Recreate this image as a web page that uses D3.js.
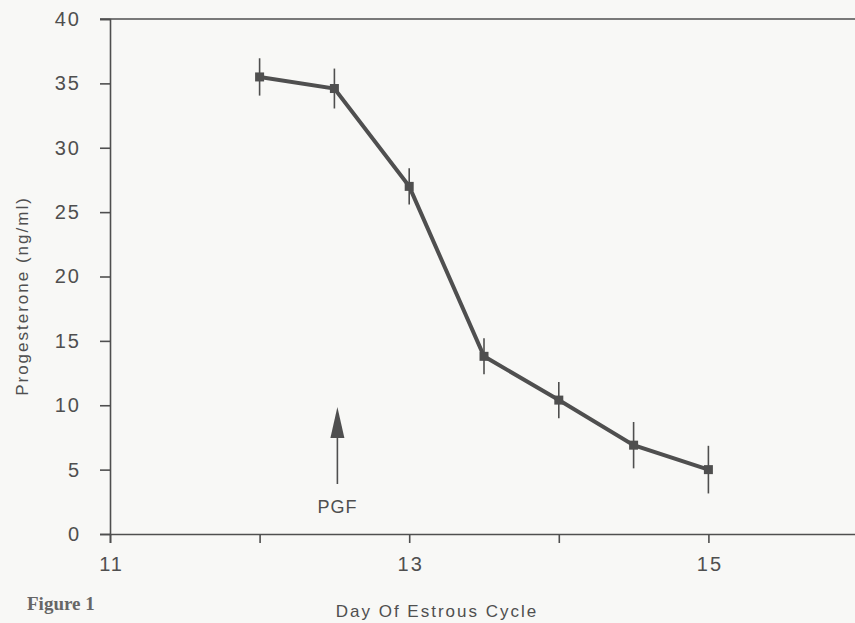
<!DOCTYPE html>
<html>
<head>
<meta charset="utf-8">
<script src="https://cdn.jsdelivr.net/npm/d3@7"></script>
<style>
  body { margin: 0; background: #f8f8f6; }
  svg { display: block; }
</style>
</head>
<body>
<div id="chart"></div>
<script>
// Data
const days = [12, 12.5, 13, 13.5, 14, 14.5, 15];
const progesterone = [35.5, 34.6, 27.0, 13.8, 10.4, 6.9, 5.0];
const sem = [1.45, 1.55, 1.4, 1.4, 1.4, 1.8, 1.85];
const yTicks = [0, 5, 10, 15, 20, 25, 30, 35, 40];
const xTicks = [11, 12, 13, 14, 15];
const xLabels = [11, 13, 15];
const pgfDay = 12.52;

const W = 855, H = 623;
const ink = "#4f4f4f";
const sans = "'Liberation Sans', Arial, sans-serif";

const svg = d3.select("#chart")
  .append("svg")
    .attr("width", W)
    .attr("height", H)
    .style("font-family", sans);

svg.append("rect")
  .attr("width", W).attr("height", H)
  .attr("fill", "#f8f8f6");

const x = d3.scaleLinear().domain([11, 16]).range([110, 858]);
const y = d3.scaleLinear().domain([0, 40]).range([534, 19]);

// Y axis
const yAxis = svg.append("g")
  .attr("transform", `translate(${x(11)},0)`)
  .call(d3.axisLeft(y).tickValues(yTicks).tickSize(10).tickPadding(19));
yAxis.attr("font-family", sans);
yAxis.selectAll("text")
  .style("font-size", "20px")
  .style("letter-spacing", "2px")
  .attr("fill", ink);

// X axis
const xAxis = svg.append("g")
  .attr("transform", `translate(0,${y(0)})`)
  .call(d3.axisBottom(x).tickValues(xTicks).tickSize(9).tickPadding(14)
    .tickFormat(d => xLabels.includes(d) ? d : ""));
xAxis.attr("font-family", sans);
xAxis.selectAll("text")
  .style("font-size", "20px")
  .style("letter-spacing", "2px")
  .attr("dx", "1px")
  .attr("fill", ink);

svg.selectAll(".domain, .tick line")
  .attr("stroke", ink)
  .attr("stroke-width", 1.6);

// top frame line
svg.append("line")
  .attr("x1", x(11) - 10).attr("x2", W)
  .attr("y1", y(40)).attr("y2", y(40))
  .attr("stroke", ink)
  .attr("stroke-width", 1.6);

// Axis titles
svg.append("text")
  .attr("transform", `translate(28,296) rotate(-90)`)
  .attr("text-anchor", "middle")
  .style("font-size", "17px")
  .style("letter-spacing", "2px")
  .attr("fill", ink)
  .text("Progesterone (ng/ml)");

svg.append("text")
  .attr("x", 437)
  .attr("y", 617)
  .attr("text-anchor", "middle")
  .style("font-size", "17px")
  .style("letter-spacing", "2px")
  .attr("fill", ink)
  .text("Day Of Estrous Cycle");

svg.append("text")
  .attr("x", 27)
  .attr("y", 610)
  .attr("font-family", "'Liberation Serif', 'DejaVu Serif', serif")
  .attr("font-weight", "bold")
  .style("font-size", "19px")
  .attr("fill", "#666")
  .text("Figure 1");

const pts = days.map((d, i) => ({day: d, val: progesterone[i], err: sem[i]}));

// Error bars
svg.append("g")
  .selectAll("line")
  .data(pts)
  .join("line")
    .attr("x1", d => x(d.day))
    .attr("x2", d => x(d.day))
    .attr("y1", d => y(d.val + d.err))
    .attr("y2", d => y(d.val - d.err))
    .attr("stroke", ink)
    .attr("stroke-width", 1.6);

// Line
svg.append("path")
  .datum(pts)
  .attr("fill", "none")
  .attr("stroke", ink)
  .attr("stroke-width", 4)
  .attr("d", d3.line().x(d => x(d.day)).y(d => y(d.val)));

// Markers
svg.append("g")
  .selectAll("rect")
  .data(pts)
  .join("rect")
    .attr("x", d => x(d.day) - 4.5)
    .attr("y", d => y(d.val) - 4.5)
    .attr("width", 9)
    .attr("height", 9)
    .attr("fill", ink);

// PGF arrow
const ax = x(pgfDay);
svg.append("line")
  .attr("x1", ax).attr("x2", ax)
  .attr("y1", 432).attr("y2", 484)
  .attr("stroke", ink)
  .attr("stroke-width", 1.6);
svg.append("path")
  .attr("d", `M${ax},407 L${ax - 7},438 L${ax + 7},438 Z`)
  .attr("fill", ink);
svg.append("text")
  .attr("x", ax)
  .attr("y", 513)
  .attr("text-anchor", "middle")
  .style("font-size", "18px")
  .style("letter-spacing", "1px")
  .attr("fill", ink)
  .text("PGF");
</script>
</body>
</html>
